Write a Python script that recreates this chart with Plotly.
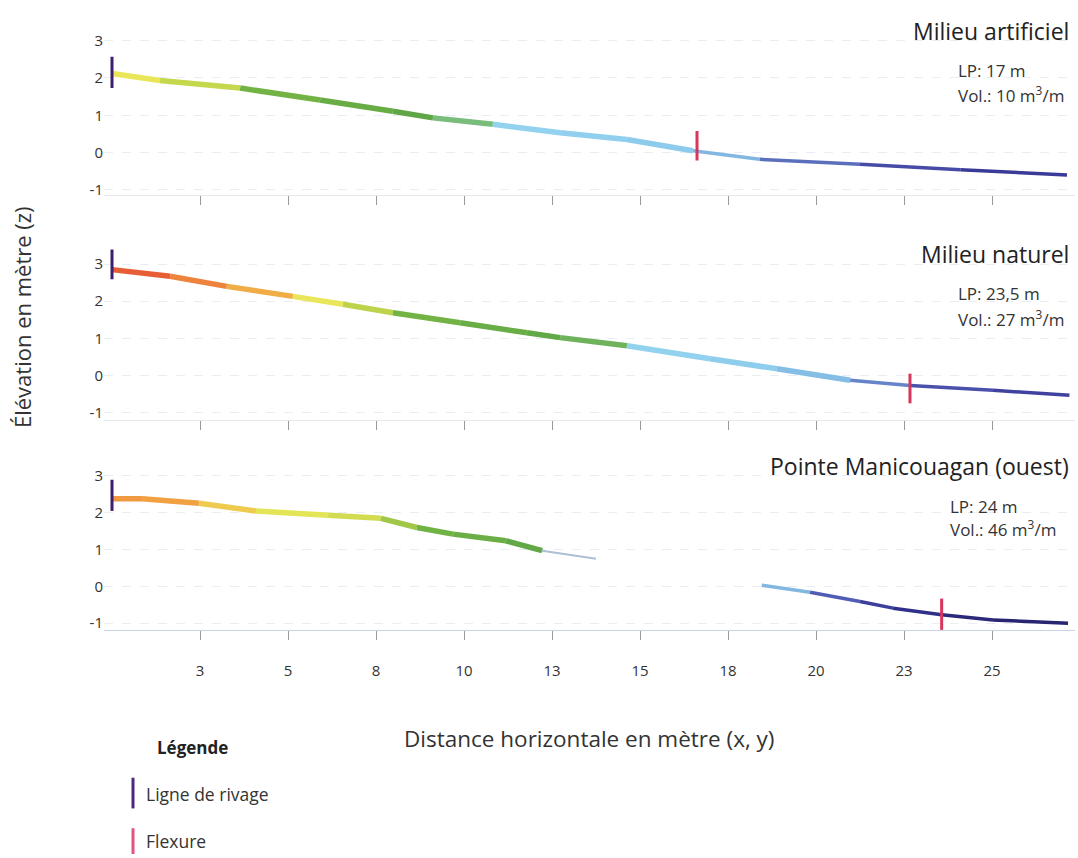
import plotly.graph_objects as go
from plotly.colors import sample_colorscale

W, H = 1078, 858

# ---------------- data ----------------
# Milieu artificiel
art_x = [0.0, 1.36, 3.64, 5.91, 7.98, 9.12, 10.82, 12.73, 14.63, 16.5, 18.4, 21.25, 24.1, 27.13]
art_z = [2.12, 1.93, 1.73, 1.41, 1.11, 0.93, 0.76, 0.53, 0.35, 0.05, -0.18, -0.31, -0.46, -0.60]
# Milieu naturel
nat_x = [0.0, 1.65, 3.26, 5.14, 6.56, 7.98, 9.89, 11.79, 12.73, 14.63, 16.99, 18.89, 20.97, 22.67, 25.03, 27.2]
nat_z = [2.85, 2.67, 2.40, 2.13, 1.92, 1.69, 1.42, 1.15, 1.02, 0.80, 0.45, 0.18, -0.13, -0.27, -0.40, -0.53]
# Pointe Manicouagan (ouest) - surveyed pieces separated by a gap
pm1_x = [0.0, 0.85, 2.47, 4.09, 6.14, 7.64, 8.66, 9.69, 11.19, 12.22]
pm1_z = [2.38, 2.38, 2.26, 2.05, 1.93, 1.85, 1.60, 1.42, 1.24, 0.97]
pm1_tail_x = [12.22, 13.75]          # faint end of the first piece
pm1_tail_z = [0.97, 0.75]
pm2_x = [18.46, 19.83, 21.25, 22.19, 23.57, 25.03, 27.16]
pm2_z = [0.03, -0.16, -0.41, -0.59, -0.77, -0.91, -1.00]

# shoreline (Ligne de rivage) and flexure markers: x, z_bottom, z_top
shore_x = [0.0, 0.0, 0.0]
shore_z0 = [1.73, 2.59, 2.05]
shore_z1 = [2.57, 3.39, 2.90]
flex_x = [16.62, 22.67, 23.57]
flex_z0 = [-0.21, -0.75, -1.18]
flex_z1 = [0.58, 0.05, -0.33]

titles = ["Milieu artificiel", "Milieu naturel", "Pointe Manicouagan (ouest)"]
lp_text = ["LP: 17 m", "LP: 23,5 m", "LP: 24 m"]
vol_text = ["Vol.: 10 m<sup>3</sup>/m", "Vol.: 27 m<sup>3</sup>/m", "Vol.: 46 m<sup>3</sup>/m"]

tick_vals = [2.5, 5, 7.5, 10, 12.5, 15, 17.5, 20, 22.5, 25]
tick_text = ["3", "5", "8", "10", "13", "15", "18", "20", "23", "25"]
y_ticks = [-1, 0, 1, 2, 3]
y_tick_text = ["-1", "0", "1", "2", "3"]

# ---------------- styling ----------------
FONT = "Open Sans"
elev_scale = [
    [0.000, "#25236c"],   # -1.0
    [0.100, "#333391"],   # -0.6
    [0.175, "#4d55b0"],   # -0.3
    [0.225, "#7fb4df"],   # -0.1
    [0.300, "#8ccbeb"],   # 0.2
    [0.420, "#93d3ef"],   # 0.68
    [0.470, "#74b763"],   # 0.88
    [0.500, "#5ea646"],   # 1.0
    [0.650, "#74b444"],   # 1.6
    [0.710, "#c8d84c"],   # 1.84
    [0.760, "#ece85a"],   # 2.04
    [0.825, "#f1a442"],   # 2.3
    [0.900, "#ec7a3c"],   # 2.6
    [1.000, "#df342c"],   # 3.0
]

def zcolor(z):
    t = min(max((z + 1.0) / 4.0, 0.0), 1.0)
    return sample_colorscale(elev_scale, [t])[0]

def px2paper_x(px):
    return px / W

def py2paper_y(py):
    return 1 - py / H

# panel geometry (pixels) -> domains / ranges
xdom = [px2paper_x(104), px2paper_x(1075)]
xrange = [(104 - 112) / 35.2, (1075 - 112) / 35.2]
panels = [
    dict(dom=[py2paper_y(193), py2paper_y(30)], rng=[(150 - 193) / 37.67, (150 - 30) / 37.67]),
    dict(dom=[py2paper_y(420), py2paper_y(245)], rng=[(375 - 420) / 37.5, (375 - 245) / 37.5]),
    dict(dom=[py2paper_y(632), py2paper_y(465)], rng=[(587.9 - 632) / 37.17, (587.9 - 465) / 37.17]),
]

fig = go.Figure()

profiles = [[(art_x, art_z)], [(nat_x, nat_z)], [(pm1_x, pm1_z), (pm2_x, pm2_z)]]
for i, pieces in enumerate(profiles):
    xa = "x" if i == 0 else f"x{i+1}"
    ya = "y" if i == 0 else f"y{i+1}"
    for xs, zs in pieces:
        for k in range(len(xs) - 1):
            zm = 0.5 * (zs[k] + zs[k + 1])
            fig.add_trace(go.Scatter(
                x=[xs[k], xs[k + 1]], y=[zs[k], zs[k + 1]], mode="lines",
                line=dict(color=zcolor(zm), width=5.5 if zm > -0.05 else 3.5),
                xaxis=xa, yaxis=ya, showlegend=False, hoverinfo="skip"))
    if i == 2:
        fig.add_trace(go.Scatter(
            x=pm1_tail_x, y=pm1_tail_z, mode="lines",
            line=dict(color="#aebfd3", width=2),
            xaxis=xa, yaxis=ya, showlegend=False, hoverinfo="skip"))
    # shoreline marker
    fig.add_trace(go.Scatter(
        x=[shore_x[i], shore_x[i]], y=[shore_z0[i], shore_z1[i]], mode="lines",
        line=dict(color="#3d1f6e", width=3), xaxis=xa, yaxis=ya,
        showlegend=False, hoverinfo="skip"))
    # flexure marker
    fig.add_trace(go.Scatter(
        x=[flex_x[i], flex_x[i]], y=[flex_z0[i], flex_z1[i]], mode="lines",
        line=dict(color="#d8365c", width=3), xaxis=xa, yaxis=ya,
        showlegend=False, hoverinfo="skip"))

layout = dict(
    width=W, height=H,
    margin=dict(l=0, r=0, t=0, b=0),
    paper_bgcolor="white", plot_bgcolor="white",
    font=dict(family=FONT, color="#222"),
    showlegend=False,
)

for i, p in enumerate(panels):
    xkey = "xaxis" if i == 0 else f"xaxis{i+1}"
    ykey = "yaxis" if i == 0 else f"yaxis{i+1}"
    xa = "x" if i == 0 else f"x{i+1}"
    ya = "y" if i == 0 else f"y{i+1}"
    layout[xkey] = dict(
        domain=xdom, range=xrange, anchor=ya,
        tickvals=tick_vals, ticktext=tick_text,
        showticklabels=(i == 2),
        ticks="outside", ticklen=9, tickwidth=1, tickcolor="#9a9a9a",
        showline=True, linecolor="#e4e9f0" if i < 2 else "#c9d3e4", linewidth=1,
        showgrid=False, zeroline=False,
        tickfont=dict(size=15, color="#333"),
        ticklabelstandoff=18,
        fixedrange=True,
    )
    layout[ykey] = dict(
        domain=p["dom"], range=p["rng"], anchor=xa,
        tickvals=y_ticks, ticktext=y_tick_text,
        showgrid=True, gridcolor="#eaeef4", griddash="dash", gridwidth=1,
        zeroline=False, showline=False, ticks="",
        tickfont=dict(size=15, color="#333"),
        fixedrange=True,
    )

fig.update_layout(**layout)

annotations = []
title_py = [27, 252, 466]
lp_py = [67, 292, 507]
vol_py = [91, 317, 529]
lp_px = [956, 956, 948]
for i in range(3):
    annotations.append(dict(
        text=titles[i], xref="paper", yref="paper",
        x=px2paper_x(1071), y=py2paper_y(title_py[i]),
        xanchor="right", yanchor="middle", showarrow=False,
        font=dict(size=23, family=FONT, color="#222")))
    annotations.append(dict(
        text=lp_text[i], xref="paper", yref="paper",
        x=px2paper_x(lp_px[i]), y=py2paper_y(lp_py[i]),
        xanchor="left", yanchor="middle", showarrow=False,
        font=dict(size=17, family=FONT, color="#333")))
    annotations.append(dict(
        text=vol_text[i], xref="paper", yref="paper",
        x=px2paper_x(lp_px[i]), y=py2paper_y(vol_py[i]),
        xanchor="left", yanchor="middle", showarrow=False,
        font=dict(size=17, family=FONT, color="#333")))

# axis titles
annotations.append(dict(
    text="Élévation en mètre (z)", xref="paper", yref="paper",
    x=px2paper_x(22), y=py2paper_y(316), textangle=-90,
    xanchor="center", yanchor="middle", showarrow=False,
    font=dict(size=22, family=FONT, color="#333")))
annotations.append(dict(
    text="Distance horizontale en mètre (x, y)", xref="paper", yref="paper",
    x=px2paper_x(589), y=py2paper_y(741),
    xanchor="center", yanchor="middle", showarrow=False,
    font=dict(size=22.5, family=FONT, color="#333")))

# legend block
annotations.append(dict(
    text="<b>Légende</b>", xref="paper", yref="paper",
    x=px2paper_x(155), y=py2paper_y(751),
    xanchor="left", yanchor="middle", showarrow=False,
    font=dict(size=17, family=FONT, color="#222")))
annotations.append(dict(
    text="Ligne de rivage", xref="paper", yref="paper",
    x=px2paper_x(144), y=py2paper_y(797),
    xanchor="left", yanchor="middle", showarrow=False,
    font=dict(size=17.5, family=FONT, color="#333")))
annotations.append(dict(
    text="Flexure", xref="paper", yref="paper",
    x=px2paper_x(144), y=py2paper_y(845),
    xanchor="left", yanchor="middle", showarrow=False,
    font=dict(size=17.5, family=FONT, color="#333")))

shapes = [
    dict(type="line", xref="paper", yref="paper",
         x0=px2paper_x(133), x1=px2paper_x(133),
         y0=py2paper_y(781), y1=py2paper_y(812),
         line=dict(color="#4b2a7b", width=3)),
    dict(type="line", xref="paper", yref="paper",
         x0=px2paper_x(133), x1=px2paper_x(133),
         y0=py2paper_y(832), y1=py2paper_y(858),
         line=dict(color="#e0567e", width=3)),
]

fig.update_layout(annotations=annotations, shapes=shapes)
fig.write_html(
    "out.html",
    config={"displayModeBar": False},
    post_script="document.body.style.margin='0';document.body.style.overflow='hidden';",
)
